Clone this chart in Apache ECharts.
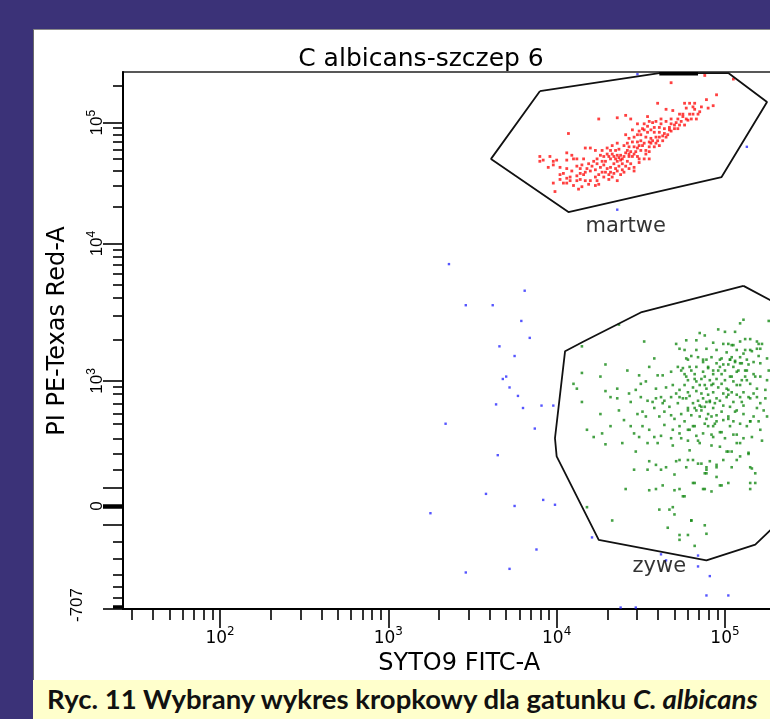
<!DOCTYPE html>
<html><head><meta charset="utf-8">
<script src="https://cdn.jsdelivr.net/npm/echarts@6/dist/echarts.min.js"></script>
<style>
html,body{margin:0;padding:0;}
body{width:770px;height:719px;background:#3b3278;position:relative;overflow:hidden;}
#panel{position:absolute;left:33px;top:29px;width:760px;height:651px;background:#fff;border-left:1px solid #6a6a6a;border-top:1px solid #8a8a8a;}
#chart{position:absolute;left:0;top:0;width:770px;height:719px;}
#caption{position:absolute;left:33px;top:680px;width:737px;height:39px;background:#ffffcc;font:bold 27.5px Lato,'Open Sans',sans-serif;line-height:38px;padding-left:14px;box-sizing:border-box;white-space:nowrap;color:#111;z-index:3;}
</style>
</head><body>
<div id="panel"></div>
<div id="chart"></div>
<div id="caption">Ryc. 11 Wybrany wykres kropkowy dla gatunku <i>C. albicans</i></div>
<script>
// ---- axes (x: log10 of SYTO9 FITC-A; y: biexponential display scale of PI PE-Texas Red-A) ----
const X_MIN = Math.log10(26.5), X_MAX = Math.log10(262144);
const Y_MIN = 0.978, Y_MAX = Math.log10(262144);
const xMajorExp = [2, 3, 4, 5];
const xMinorValues = [30,40,50,60,70,80,90,200,300,400,500,600,700,800,900,2000,3000,4000,5000,6000,7000,8000,9000,20000,30000,40000,50000,60000,70000,80000,90000,200000];
const yLabelPos = [1.829, 2.864, 4, 5];
const yLabelText = ['0', '3', '4', '5'];
const yNegLabel = '-707';
const yNegLabelPos = [1.011];
const yLongTicks = [0.978, 1.678, 1.829, 1.980, 2.864, 4, 5];
const yMinorTicks = [5.301,4.954,4.903,4.845,4.778,4.699,4.602,4.477,4.301,3.948,3.889,3.824,3.748,3.658,3.548,3.406,3.206,2.815,2.760,2.678,2.595,2.512,2.388,2.264,2.132,1.534,1.397,1.259,1.162,1.074];
const yZeroTick = [1.829];
const yFloorTick = [0.995];

// ---- events ----
const deadEvents = [[4.68,5.33],[4.88,5.39],[4.95,5.23],[4.60,5.16],[4.65,5.11],[4.69,5.10],[4.76,5.16],[4.79,5.16],[4.82,5.16],[4.86,5.13],[4.90,5.12],[4.82,5.11],[4.73,5.07],[4.75,5.07],[4.79,5.07],[4.81,5.07],[4.84,5.07],[4.83,5.03],[4.80,5.03],[4.77,5.03],[4.25,5.03],[4.36,5.04],[4.41,5.06],[4.44,5.03],[4.54,5.05],[4.07,4.91],[4.48,4.99],[4.52,4.99],[4.55,5.01],[4.59,5.01],[4.62,4.99],[4.65,5.01],[4.68,4.99],[4.71,5.00],[4.73,4.98],[4.70,4.95],[4.67,4.96],[4.64,4.95],[4.61,4.96],[4.58,4.96],[4.56,4.94],[4.54,4.92],[4.52,4.94],[4.50,4.90],[4.48,4.90],[4.58,4.92],[4.61,4.92],[4.64,4.91],[4.66,4.90],[4.68,4.93],[4.63,4.89],[4.59,4.88],[4.56,4.87],[4.53,4.88],[4.50,4.85],[4.48,4.84],[4.45,4.84],[4.42,4.83],[4.49,4.81],[4.46,4.80],[4.43,4.80],[4.40,4.81],[4.57,4.85],[4.60,4.85],[4.63,4.85],[4.61,4.81],[4.58,4.80],[4.55,4.80],[4.53,4.77],[4.50,4.77],[4.47,4.76],[4.44,4.76],[4.42,4.77],[4.37,4.78],[4.35,4.77],[4.32,4.77],[4.30,4.74],[4.28,4.72],[4.26,4.73],[4.23,4.77],[4.20,4.79],[4.17,4.79],[4.06,4.75],[4.09,4.73],[4.10,4.70],[4.12,4.70],[4.16,4.70],[3.90,4.72],[3.92,4.69],[3.96,4.72],[3.98,4.68],[4.00,4.69],[3.90,4.68],[3.95,4.63],[3.98,4.65],[4.06,4.62],[4.14,4.62],[4.18,4.62],[4.21,4.64],[4.24,4.66],[4.27,4.68],[4.29,4.68],[4.32,4.70],[4.34,4.72],[4.36,4.73],[4.38,4.73],[4.40,4.72],[4.43,4.72],[4.45,4.72],[4.48,4.72],[4.49,4.70],[4.52,4.70],[4.55,4.70],[4.38,4.69],[4.36,4.68],[4.34,4.66],[4.32,4.63],[4.30,4.62],[4.28,4.65],[4.26,4.63],[4.23,4.61],[4.20,4.60],[4.17,4.59],[4.16,4.57],[4.14,4.58],[4.12,4.56],[4.08,4.55],[4.06,4.54],[4.02,4.53],[4.08,4.52],[4.12,4.52],[4.14,4.53],[4.17,4.52],[4.20,4.52],[4.23,4.55],[4.25,4.57],[4.27,4.59],[4.29,4.59],[4.32,4.59],[4.35,4.62],[4.37,4.64],[4.39,4.66],[4.42,4.68],[4.44,4.66],[4.46,4.63],[4.39,4.61],[4.36,4.60],[4.34,4.58],[4.31,4.57],[4.28,4.55],[4.25,4.49],[4.23,4.48],[4.19,4.49],[4.13,4.45],[4.10,4.48],[4.04,4.50],[3.98,4.50],[3.99,4.43],[4.36,4.52],[4.38,4.57],[4.40,4.59],[4.43,4.62],[4.46,4.60],[4.31,4.72],[4.33,4.74],[4.35,4.70],[4.37,4.71],[4.39,4.70],[4.41,4.75],[4.43,4.74],[4.46,4.74],[4.48,4.79],[4.51,4.81],[4.52,4.83],[4.55,4.84],[4.56,4.83],[4.59,4.83],[4.61,4.88],[4.65,4.88],[4.67,4.94],[4.70,4.98],[4.72,4.95],[4.74,5.01],[4.76,4.98],[4.78,5.02],[4.75,5.05],[4.72,5.03],[4.68,5.03],[4.62,5.03],[4.57,5.00],[4.54,4.97],[4.51,4.95],[4.49,4.93],[4.46,4.88],[4.43,4.87],[4.41,4.90],[4.45,4.94],[4.36,4.83],[4.33,4.81],[4.30,4.79],[4.27,4.77],[4.24,4.70],[4.22,4.68],[4.19,4.66],[4.15,4.65],[4.12,4.64],[4.09,4.60],[4.04,4.58],[4.02,4.57],[4.06,4.50],[4.15,4.47],[4.24,4.52],[4.31,4.53],[4.33,4.55],[4.41,4.64],[4.49,4.67],[4.53,4.74],[4.55,4.76],[4.85,5.09],[4.81,5.13],[4.77,5.12],[4.89,5.19],[4.93,5.14],[4.06,4.69],[4.02,4.63],[5.05,5.36]];

const liveEvents = [[5.11,3.37],[5.09,3.34],[5.06,3.27],[4.96,3.29],[5.00,3.27],[4.85,3.26],[4.88,3.24],[4.83,3.20],[4.77,3.20],[4.71,3.17],[4.93,3.18],[4.99,3.17],[5.04,3.16],[5.09,3.19],[5.12,3.21],[5.15,3.21],[5.20,3.17],[5.22,3.17],
[4.37,3.33],[4.15,3.15],[4.52,3.19],[4.58,3.05],[4.73,3.13],[4.76,3.12],[4.83,3.12],[4.89,3.13],[4.95,3.12],[5.01,3.10],[5.07,3.12],[5.11,3.09],[5.15,3.12],[5.19,3.13],[4.78,3.04],[4.87,3.02],[4.92,3.06],[4.97,3.04],[5.03,3.04],[5.06,3.03],[5.09,3.01],[5.14,3.00],[5.20,3.07],[5.25,3.05],
[4.29,3.00],[4.42,2.95],[4.26,2.90],[4.49,2.91],[4.55,2.98],[4.60,2.91],[4.63,2.91],[4.68,2.94],[4.72,2.98],[4.74,2.95],[4.77,2.90],[4.80,2.95],[4.82,2.88],[4.87,2.94],[4.90,2.97],[4.93,2.92],[4.96,2.95],[5.00,2.95],[5.04,2.90],[5.07,2.94],[5.12,2.95],[5.17,2.92],[5.21,2.90],[4.10,2.84],[4.15,2.93],[4.36,2.80],[4.50,2.84],[4.53,2.86],[4.59,2.80],[4.65,2.81],[4.69,2.83],[4.76,2.83],[4.81,2.81],[4.85,2.83],[4.89,2.80],[4.93,2.84],[4.98,2.84],[5.02,2.79],[5.07,2.83],[5.13,2.87],[5.19,2.80],[5.25,2.87],
[4.12,2.80],[4.29,2.78],[4.32,2.73],[4.36,2.72],[4.43,2.76],[4.54,2.70],[4.59,2.72],[4.62,2.73],[4.64,2.70],[4.68,2.73],[4.71,2.76],[4.75,2.72],[4.79,2.74],[4.81,2.68],[4.85,2.66],[4.88,2.65],[4.91,2.69],[4.97,2.70],[5.01,2.73],[5.05,2.69],[5.09,2.73],[5.15,2.72],[5.21,2.68],[4.15,2.69],[4.26,2.59],[4.48,2.59],[4.51,2.61],[4.53,2.57],[4.58,2.64],[4.61,2.57],[4.64,2.61],[4.68,2.58],[4.70,2.55],[4.74,2.59],[4.78,2.62],[4.82,2.64],[4.86,2.62],[4.90,2.59],[4.93,2.64],[4.98,2.61],[5.02,2.55],[5.07,2.62],[5.11,2.59],[5.17,2.57],[5.23,2.62],
[4.18,2.46],[4.22,2.40],[4.27,2.43],[4.32,2.49],[4.29,2.34],[4.39,2.35],[4.44,2.49],[4.46,2.43],[4.49,2.40],[4.55,2.46],[4.58,2.40],[4.62,2.41],[4.64,2.50],[4.69,2.46],[4.73,2.49],[4.76,2.53],[4.78,2.46],[4.81,2.49],[4.83,2.41],[4.87,2.43],[4.90,2.49],[4.94,2.51],[4.97,2.44],[5.03,2.49],[5.07,2.42],[5.09,2.51],[5.15,2.53],[5.16,2.40],[5.21,2.46],[4.47,2.28],[4.54,2.35],[4.69,2.33],[4.74,2.39],[4.78,2.37],[4.85,2.35],[4.92,2.33],[4.97,2.32],[5.01,2.28],[5.04,2.28],[5.09,2.35],[5.14,2.27],
[4.55,2.20],[4.54,2.13],[4.59,2.17],[4.62,2.13],[4.65,2.15],[4.71,2.20],[4.73,2.21],[4.77,2.15],[4.81,2.21],[4.86,2.18],[4.89,2.13],[4.91,2.20],[4.95,2.15],[4.99,2.21],[5.04,2.15],[5.09,2.24],[5.15,2.15],[5.18,2.10],[4.46,2.13],[4.70,2.09],[4.82,2.02],[4.88,2.10],[4.95,2.07],[4.98,2.00],[5.02,2.02],[5.15,2.02],[4.41,1.97],[4.55,1.96],[4.59,1.97],[4.63,2.00],[4.70,1.96],[4.73,1.97],[4.76,1.91],[4.87,1.97],[4.92,1.95],[4.97,2.00],[5.15,1.97],
[4.18,1.82],[4.33,1.71],[4.61,1.80],[4.67,1.80],[4.69,1.82],[4.70,1.76],[4.66,1.65],[4.73,1.59],[4.73,1.55],[4.78,1.59],[4.80,1.71],[4.88,1.67],[4.89,1.60],[4.82,1.50],
[5.26,3.36],[5.19,3.19],[5.02,3.17],[5.05,3.16],[5.21,3.13],[5.12,3.12],[5.16,3.11],[4.77,3.05],[4.87,3.04],[4.98,3.05],[5.03,3.04],[5.06,3.02],[5.10,3.01],[5.21,3.01],[4.75,2.97],[4.79,2.98],[4.83,2.98],[4.90,2.98],[4.97,2.98],[5.02,3.00],[5.05,2.98],[5.08,2.95],[5.13,2.95],[4.76,2.92],[4.82,2.92],[4.88,2.90],[4.93,2.95],[4.98,2.92],[5.03,2.90],[5.12,2.90],[5.18,2.90],[4.88,2.83],[4.92,2.83],[4.96,2.81],[5.01,2.80],[5.09,2.83],[4.73,2.73],[4.77,2.72],[4.87,2.72],[4.91,2.70],[4.95,2.72],[5.02,2.75],[5.10,2.69],[5.14,2.73],[5.19,2.73],[5.24,2.72],[4.78,2.64],[4.83,2.62],[4.86,2.65],[4.92,2.57],[4.95,2.53],[5.02,2.57],[5.06,2.61],[5.15,2.53],[4.79,2.46],[4.82,2.49],[4.88,2.51],[4.93,2.49],[4.98,2.44],[5.05,2.42],[5.11,2.39],[4.79,2.29],[4.84,2.37],[4.92,2.42],[5.02,2.28],[5.14,2.26],[4.78,2.21],[4.84,2.18],[4.89,2.15],[4.95,2.17],[5.07,2.21],[5.16,2.14],[4.89,2.10],[4.81,2.02],[4.88,1.97],[5.18,2.02],[4.75,1.91],[4.80,1.71],
[4.80,3.07],[4.84,3.06],[4.89,3.04],[4.95,3.01],[4.99,3.00],[5.04,3.06],[5.09,3.06],[5.13,3.04],[5.17,3.02],[4.78,2.87],[4.83,2.86],[4.86,2.88],[4.91,2.87],[4.95,2.88],[5.00,2.87],[5.05,2.86],[5.10,2.87],[5.15,2.84],[4.73,2.79],[4.78,2.77],[4.83,2.78],[4.86,2.76],[4.90,2.75],[4.93,2.77],[4.99,2.76],[5.04,2.77],[5.07,2.75],[5.11,2.77],[5.17,2.76],[4.84,2.70],[4.89,2.69],[4.94,2.68],[4.99,2.66],[5.03,2.65],[5.11,2.66],[5.19,2.64],[4.72,2.68],[4.67,2.65],[4.63,2.68],[4.57,2.69],[4.50,2.73],[4.47,2.79],[4.44,2.69],[4.80,2.58],[4.85,2.57],[4.89,2.55],[4.95,2.58],[4.99,2.54],[5.05,2.53],[5.13,2.49],[4.73,2.43],[4.68,2.39],[4.60,2.35],[4.51,2.49],[4.40,2.54],[4.37,2.62],[4.93,2.40],[5.00,2.39],[5.07,2.35],[5.20,2.53],[5.22,2.37],[5.25,2.57],[5.24,2.79],[5.26,2.95]];

const otherEvents = [[3.36,3.83],[3.81,3.61],[3.46,3.49],[3.62,3.49],[3.79,3.36],[3.84,3.22],[3.66,3.15],[3.75,3.07],[3.68,2.88],[3.70,2.90],[3.72,2.81],[3.77,2.74],[3.64,2.67],[3.80,2.64],[3.91,2.66],[3.98,2.66],[3.34,2.51],[3.87,2.47],[3.65,2.25],[3.58,1.93],[3.75,1.83],[3.92,1.88],[3.99,1.84],[3.25,1.77],[3.88,1.47],[3.72,1.31],[3.46,1.28],[4.21,1.57],[4.62,1.43],[4.65,1.38],[4.84,1.42],[4.84,1.33],[4.91,1.25],[4.89,1.09],[5.02,1.09],[4.38,0.99],[4.47,0.99],[4.48,5.40],[5.13,4.80],[4.36,4.28]];

// ---- gates ----
const gateDead = [[3.90,5.26],[4.61,5.41],[5.02,5.41],[5.25,5.17],[4.98,4.55],[4.07,4.26],[3.61,4.70],[3.90,5.26]];
const gateLive = [[5.11,3.65],[4.50,3.43],[4.16,3.19],[4.05,3.11],[3.99,2.39],[4.00,2.24],[4.25,1.55],[4.89,1.38],[5.18,1.51],[5.27,1.63],[5.39,1.84],[5.42,3.42],[5.11,3.65]];
const topEdgeRun = [[4.61,5.405],[4.84,5.405]];
const gateNames = [{name:'martwe', value:[4.41,4.14]}, {name:'zywe', value:[4.61,1.33]}];

const nearest = (arr, v) => { let bi = 0, bd = Infinity; arr.forEach((a, i) => { const d = Math.abs(a - v); if (d < bd) { bd = d; bi = i; } }); return bi; };
const FONT = 'DejaVu Sans';
const YFONT = "'Liberation Sans Narrow', 'Liberation Sans', sans-serif";
const tickLine = {color:'#000', width:1.6};
const noSplit = {show:false};

const chart = echarts.init(document.getElementById('chart'));
chart.setOption({
  animation: false,
  backgroundColor: 'transparent',
  grid: {left:123, top:72, width:672.4, height:537, show:true, borderColor:'#222', borderWidth:1.5, backgroundColor:'transparent', containLabel:false, outerBoundsMode:'none'},
  graphic: [
    {type:'text', x:421, y:59, style:{text:'C albicans-szczep 6', fontFamily:FONT, fontSize:25, fill:'#000', align:'center', verticalAlign:'middle'}},
    {type:'text', x:58, y:331, rotation:Math.PI/2, style:{text:'PI PE-Texas Red-A', fontFamily:FONT, fontSize:24, fill:'#000', align:'center', verticalAlign:'middle'}}
  ],
  xAxis: [
    {type:'value', gridIndex:0, position:'bottom', min:X_MIN, max:X_MAX,
     name:'SYTO9 FITC-A', nameLocation:'middle', nameGap:38, nameTextStyle:{fontFamily:FONT, fontSize:24, color:'#000'},
     axisLine:{show:true, onZero:false, lineStyle:{color:'#000', width:2}},
     axisTick:{show:true, customValues:xMajorExp, length:19, lineStyle:tickLine},
     axisLabel:{show:true, customValues:xMajorExp, margin:17,
       formatter:(v) => '{b|10}{s|' + xMajorExp[nearest(xMajorExp, v)] + '}',
       rich:{b:{fontFamily:FONT, fontSize:17, lineHeight:21, verticalAlign:'bottom', color:'#000'}, s:{fontFamily:FONT, fontSize:12, lineHeight:12, verticalAlign:'top', color:'#000'}}},
     splitLine:noSplit},
    {type:'value', gridIndex:0, position:'bottom', min:X_MIN, max:X_MAX,
     axisLine:{show:false, onZero:false}, axisTick:{show:true, customValues:xMinorValues.map(Math.log10), length:11, lineStyle:tickLine},
     axisLabel:{show:false}, splitLine:noSplit}
  ],
  yAxis: [
    {type:'value', gridIndex:0, position:'left', min:Y_MIN, max:Y_MAX,
     axisLine:{show:true, onZero:false, lineStyle:{color:'#000', width:2}},
     axisTick:{show:true, customValues:yLongTicks, length:20, lineStyle:tickLine},
     axisLabel:{show:true, customValues:yLabelPos, rotate:90, margin:17,
       formatter:(v) => { const t = yLabelText[nearest(yLabelPos, v)]; return t === '0' ? '{b|0}' : '{b|10}{s|' + t + '}'; },
       rich:{b:{fontFamily:YFONT, fontSize:17, lineHeight:20, verticalAlign:'bottom', color:'#000'}, s:{fontFamily:YFONT, fontSize:12, lineHeight:12, verticalAlign:'top', color:'#000'}}},
     splitLine:noSplit},
    {type:'value', gridIndex:0, position:'left', min:Y_MIN, max:Y_MAX,
     axisLine:{show:false, onZero:false}, axisTick:{show:true, customValues:yMinorTicks, length:10, lineStyle:tickLine},
     axisLabel:{show:false}, splitLine:noSplit},
    {type:'value', gridIndex:0, position:'left', min:Y_MIN, max:Y_MAX,
     axisLine:{show:false, onZero:false}, axisTick:{show:true, customValues:yZeroTick, length:20, lineStyle:{color:'#000', width:4.5}},
     axisLabel:{show:false}, splitLine:noSplit},
    {type:'value', gridIndex:0, position:'left', min:Y_MIN, max:Y_MAX,
     axisLine:{show:false, onZero:false}, axisTick:{show:true, customValues:yFloorTick, length:10, lineStyle:{color:'#000', width:3.5}},
     axisLabel:{show:true, customValues:yNegLabelPos, rotate:90, margin:37, formatter:() => yNegLabel, fontFamily:YFONT, fontSize:17, color:'#000'},
     splitLine:noSplit}
  ],
  series: [
    {type:'scatter', xAxisIndex:0, yAxisIndex:0, data:otherEvents, symbol:'rect', symbolSize:2.4, itemStyle:{color:'#2a2aff'}, silent:true},
    {type:'scatter', xAxisIndex:0, yAxisIndex:0, data:liveEvents, symbol:'rect', symbolSize:2.6, itemStyle:{color:'#178a17'}, silent:true},
    {type:'scatter', xAxisIndex:0, yAxisIndex:0, data:deadEvents, symbol:'rect', symbolSize:2.8, itemStyle:{color:'#ff1010'}, silent:true},
    {type:'line', xAxisIndex:0, yAxisIndex:0, data:gateDead, symbol:'none', lineStyle:{color:'#111', width:1.8}, silent:true},
    {type:'line', xAxisIndex:0, yAxisIndex:0, data:gateLive, symbol:'none', lineStyle:{color:'#111', width:1.8}, silent:true},
    {type:'line', xAxisIndex:0, yAxisIndex:0, data:topEdgeRun, symbol:'none', lineStyle:{color:'#000', width:3.5}, silent:true},
    {type:'scatter', xAxisIndex:0, yAxisIndex:0, data:gateNames, symbolSize:1, itemStyle:{color:'rgba(0,0,0,0)'}, silent:true,
     label:{show:true, position:'inside', formatter:'{b}', fontFamily:FONT, fontSize:21, color:'#000'}}
  ]
});
</script>
</body></html>
